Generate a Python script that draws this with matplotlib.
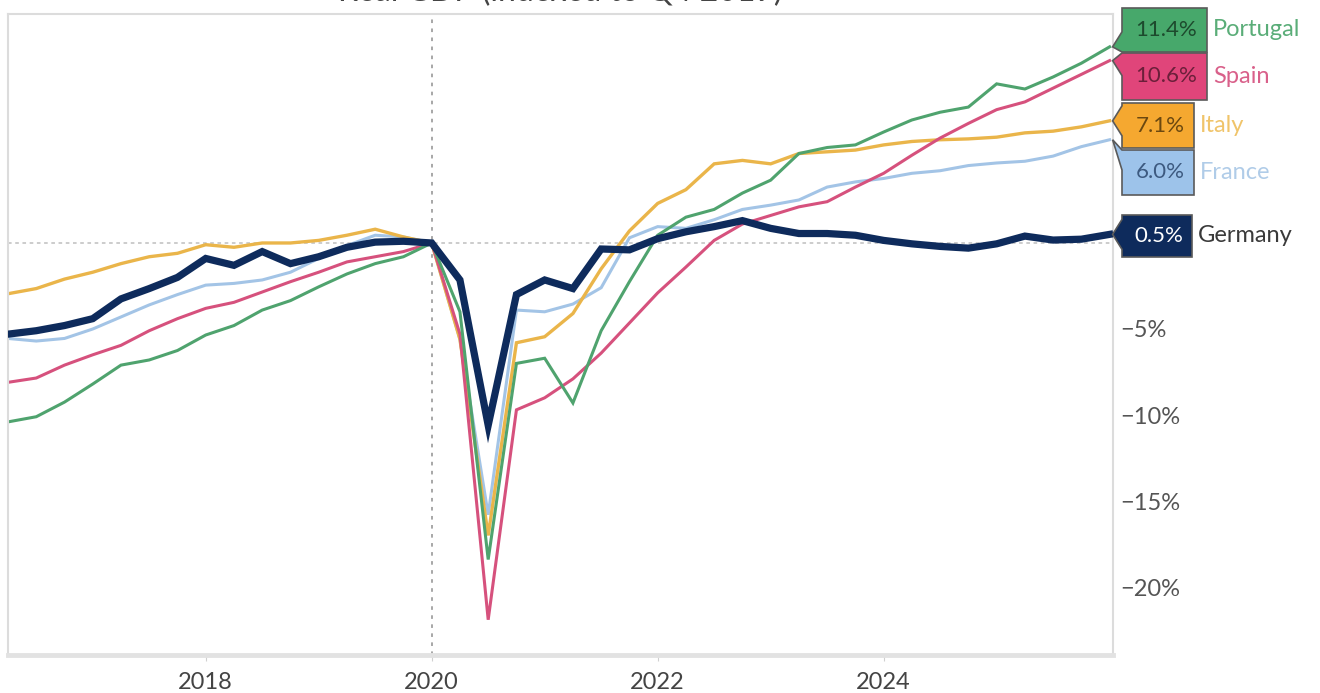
import numpy as np
import matplotlib
matplotlib.use("Agg")
import matplotlib.pyplot as plt
from matplotlib.patches import Polygon
from matplotlib.transforms import IdentityTransform

plt.rcParams['font.family'] = ['Lato', 'DejaVu Sans']

# Quarterly real GDP, % change relative to Q4 2019 (Q1 2016 .. Q4 2025)
quarters = np.arange(2016.25, 2026.01, 0.25)

germany = [-5.3, -5.1, -4.8, -4.4, -3.25, -2.65, -2.0, -0.9, -1.3, -0.5,
           -1.2, -0.8, -0.25, 0.05, 0.1, 0.0, -2.15, -10.6, -3.0, -2.15,
           -2.65, -0.35, -0.4, 0.25, 0.65, 0.95, 1.3, 0.85, 0.55, 0.55,
           0.45, 0.15, -0.05, -0.2, -0.3, -0.05, 0.4, 0.17, 0.22, 0.5]
italy = [-2.95, -2.65, -2.1, -1.7, -1.2, -0.8, -0.6, -0.1, -0.25, 0.0,
         0.0, 0.15, 0.45, 0.8, 0.35, 0.0, -5.6, -17.0, -5.8, -5.45,
         -4.1, -1.5, 0.7, 2.3, 3.1, 4.6, 4.8, 4.6, 5.2, 5.3,
         5.4, 5.7, 5.9, 6.0, 6.05, 6.15, 6.4, 6.5, 6.75, 7.1]
france = [-5.55, -5.7, -5.55, -5.0, -4.3, -3.6, -3.0, -2.45, -2.35, -2.15,
          -1.7, -0.9, -0.15, 0.45, 0.35, 0.0, -5.6, -15.8, -3.9, -4.0,
          -3.55, -2.6, 0.3, 0.95, 0.85, 1.35, 1.95, 2.2, 2.5, 3.25,
          3.55, 3.75, 4.05, 4.2, 4.5, 4.65, 4.75, 5.05, 5.6, 6.0]
spain = [-8.1, -7.85, -7.1, -6.5, -5.95, -5.1, -4.4, -3.8, -3.45, -2.85,
         -2.25, -1.7, -1.1, -0.8, -0.5, 0.0, -5.3, -21.9, -9.7, -9.0,
         -7.9, -6.4, -4.65, -2.9, -1.4, 0.15, 1.1, 1.6, 2.1, 2.4,
         3.25, 4.05, 5.1, 6.1, 6.95, 7.75, 8.2, 9.0, 9.8, 10.6]
portugal = [-10.4, -10.1, -9.25, -8.2, -7.1, -6.8, -6.25, -5.35, -4.8, -3.9,
            -3.35, -2.55, -1.8, -1.2, -0.8, 0.0, -4.0, -18.4, -7.0, -6.7,
            -9.3, -5.1, -2.25, 0.45, 1.5, 1.95, 2.9, 3.65, 5.2, 5.55,
            5.7, 6.45, 7.15, 7.6, 7.9, 9.25, 8.95, 9.65, 10.45, 11.4]

countries = ["Portugal", "Spain", "Italy", "France", "Germany"]
series = {"Portugal": portugal, "Spain": spain, "Italy": italy,
          "France": france, "Germany": germany}

x_ticks = [2018, 2020, 2022, 2024]
y_ticks = [-20, -15, -10, -5]
y_tick_labels = ["\u221220%", "\u221215%", "\u221210%", "\u22125%"]
title = "Real GDP (indexed to Q4 2019)"

# styling
line_color = {"Portugal": "#4fa36e", "Spain": "#d6517d", "Italy": "#eab54a",
              "France": "#a3c4e6", "Germany": "#0e2b5c"}
line_width = {"Portugal": 2.2, "Spain": 2.2, "Italy": 2.4,
              "France": 2.2, "Germany": 5.2}
tag_fill = {"Portugal": "#47a86b", "Spain": "#e0457a", "Italy": "#f5a830",
            "France": "#9dc3ea", "Germany": "#0e2b5c"}
tag_text = {"Portugal": "#1d4a2d", "Spain": "#6b1f3a", "Italy": "#6b4810",
            "France": "#3d5a80", "Germany": "#ffffff"}
name_color = {"Portugal": "#5aad78", "Spain": "#d9608a", "Italy": "#f0c46a",
              "France": "#b0cce8", "Germany": "#3a3a3a"}
# tag boxes: (top, bottom, right) in pixels from the top-left of the image
tag_box = {"Portugal": (8, 52, 1207), "Spain": (53, 100, 1207),
           "Italy": (103, 148, 1194), "France": (150, 195, 1194),
           "Germany": (215, 257, 1192)}

W, H = 1320, 693
fig = plt.figure(figsize=(W / 100, H / 100), dpi=100)
ax = fig.add_axes([8 / W, (H - 655) / H, 1105 / W, 641 / H])

ax.set_xlim(2016.25, 2026.03)
ax.set_ylim(-23.95, 13.31)

ax.axhline(0, color="#c8c8c8", lw=1.3, ls=(0, (2, 2)), zorder=1)
ax.axvline(2020, color="#a0a0a0", lw=1.3, ls=(0, (2, 3)), zorder=1)

for c in ["France", "Italy", "Spain", "Portugal", "Germany"]:
    ax.plot(quarters, series[c], color=line_color[c], lw=line_width[c],
            solid_joinstyle="miter", zorder=3 if c == "Germany" else 2)

for s in ax.spines.values():
    s.set_color("#dcdcdc")
    s.set_linewidth(1.5)
ax.spines["bottom"].set_linewidth(3.5)
ax.spines["bottom"].set_color("#e2e2e2")

ax.yaxis.tick_right()
ax.set_yticks(y_ticks)
ax.set_yticklabels(y_tick_labels)
ax.tick_params(axis="y", length=0, pad=5, labelsize=17, labelcolor="#555555")
ax.set_xticks(x_ticks)
ax.set_xticklabels([str(t) for t in x_ticks])
ax.tick_params(axis="x", length=4, color="#d0d0d0", pad=8, labelsize=17,
               labelcolor="#444444")

# chart title, running off the top edge
fig.text(560 / W, 1 - 1 / H, title, ha="center", va="baseline",
         fontsize=23, color="#444444")

# end-of-line value tags
fig.canvas.draw()
ident = IdentityTransform()
for c in countries:
    vals = series[c]
    tip_x, tip_y = ax.transData.transform((quarters[-1], vals[-1]))
    tip_top = H - tip_y
    top, bottom, right = tag_box[c]
    left = 1122
    up = max(top, tip_top - 15)
    lo = min(bottom, tip_top + 15)
    if lo - up < 20:
        if up == top:
            lo = up + 20
        else:
            up = lo - 20
    pts_top = [(left, top), (right, top), (right, bottom), (left, bottom),
               (left, lo), (tip_x + 3, tip_top), (left, up)]
    pts = [(px, H - py) for px, py in pts_top]
    fig.add_artist(Polygon(pts, closed=True, facecolor=tag_fill[c],
                           edgecolor="#5a5a5a", lw=1.2, transform=ident,
                           zorder=5))
    label = f"{vals[-1]:.1f}%"
    fig.text((left + right) / 2 + 2, H - (top + bottom) / 2, label,
             transform=ident, ha="center", va="center", fontsize=16,
             color=tag_text[c], zorder=6)
    fig.text(right + 6, H - (top + bottom) / 2, c, transform=ident,
             ha="left", va="center", fontsize=17, color=name_color[c],
             zorder=6)

fig.savefig("out.png", dpi=100)
